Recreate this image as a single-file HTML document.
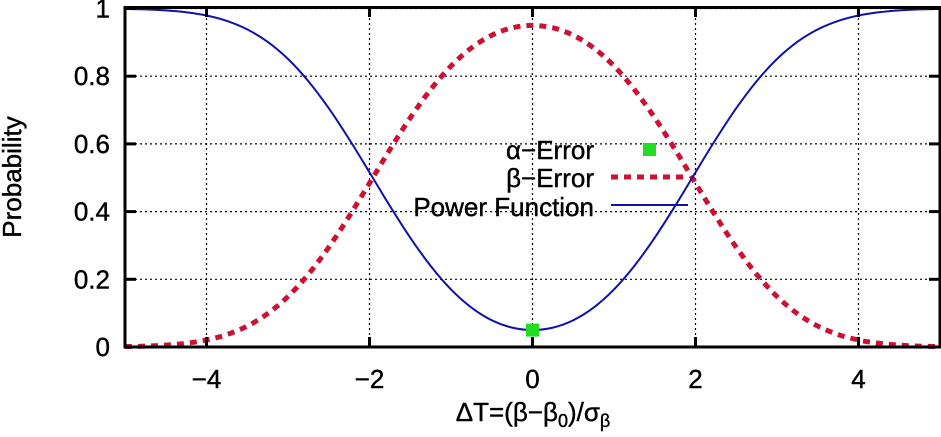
<!DOCTYPE html>
<html><head><meta charset="utf-8"><style>
html,body{margin:0;padding:0;background:#fff;}
svg{display:block;font-family:"Liberation Sans",sans-serif;}
</style></head><body>
<svg id="chart" width="941" height="437" viewBox="0 0 941 437" xmlns="http://www.w3.org/2000/svg">
<g id="grid"></g>
<g id="series"></g>
<rect x="125" y="7.5" width="815" height="339.5" fill="none" stroke="#000" stroke-width="3"/>
<g id="ticks"></g>
<text x="21" y="177" font-size="26" text-anchor="middle" transform="rotate(-90 21 177)" stroke="#000" stroke-width="0.4">Probability</text>
<text x="533" y="421" font-size="26" text-anchor="middle" stroke="#000" stroke-width="0.4">ΔT=(β−β<tspan font-size="18" dy="6">0</tspan><tspan dy="-6">)/σ</tspan><tspan font-size="18" dy="6">β</tspan></text>
<g stroke="#000" stroke-width="0.4">
<text x="594" y="159" font-size="26" text-anchor="end">α−Error</text>
<rect x="643" y="143" width="13" height="13" fill="#22dd22" stroke="none"/>
<text x="594" y="187" font-size="26" text-anchor="end">β−Error</text>
<line x1="611" y1="177" x2="688" y2="177" stroke="#cc1133" stroke-width="5" stroke-dasharray="7 6"/>
<text x="594" y="216" font-size="26" text-anchor="end">Power Function</text>
<line x1="611" y1="205" x2="688" y2="205" stroke="#1111aa" stroke-width="2"/>
</g>
</svg>
<script>
const xs=[-5,-4.75,-4.5,-4.25,-4,-3.75,-3.5,-3.25,-3,-2.75,-2.5,-2.25,-2,-1.75,-1.5,-1.25,-1,-0.75,-0.5,-0.25,0,0.25,0.5,0.75,1,1.25,1.5,1.75,2,2.25,2.5,2.75,3,3.25,3.5,3.75,4,4.25,4.5,4.75,5];
const powerVals=[0.9988,0.9974,0.9945,0.9890,0.9793,0.9633,0.9382,0.9015,0.8508,0.7852,0.7054,0.6141,0.516,0.4168,0.323,0.2396,0.170,0.1165,0.079,0.0572,0.05,0.0572,0.079,0.1165,0.170,0.2396,0.323,0.4168,0.516,0.6141,0.7054,0.7852,0.8508,0.9015,0.9382,0.9633,0.9793,0.9890,0.9945,0.9974,0.9988];
const betaVals=[0.0012,0.0026,0.0055,0.0110,0.0207,0.0367,0.0618,0.0985,0.1492,0.2148,0.2946,0.3859,0.484,0.5832,0.677,0.7604,0.830,0.8835,0.921,0.9428,0.95,0.9428,0.921,0.8835,0.830,0.7604,0.677,0.5832,0.484,0.3859,0.2946,0.2148,0.1492,0.0985,0.0618,0.0367,0.0207,0.0110,0.0055,0.0026,0.0012];
const alphaX=[0];
const alphaY=[0.05];
const xTicks=[-4,-2,0,2,4];
const xTickLabels=["−4","−2","0","2","4"];
const yTicks=[0,0.2,0.4,0.6,0.8,1];
const yTickLabels=["0","0.2","0.4","0.6","0.8","1"];

const NS="http://www.w3.org/2000/svg";
const X=v=>532.5+v*81.5;
const Y=v=>347-v*338.5;
function mk(tag,attrs,parent){const e=document.createElementNS(NS,tag);for(const k in attrs)e.setAttribute(k,attrs[k]);parent.appendChild(e);return e;}
const grid=document.getElementById('grid'),ticks=document.getElementById('ticks'),series=document.getElementById('series');
xTicks.forEach((t,i)=>{
  const g=mk('line',{x1:X(t),x2:X(t),y1:8,y2:347,stroke:'#000','stroke-width':1.2,'stroke-dasharray':'2 3'},grid);
  
  
  const tk=mk('line',{x1:X(t),x2:X(t),y1:337,y2:347,stroke:'#000','stroke-width':3},ticks);
  
  
  const tk2=mk('line',{x1:X(t),x2:X(t),y1:7,y2:17,stroke:'#000','stroke-width':3},ticks);
  
  
  const tx=mk('text',{x:X(t),y:388,'font-size':26,'text-anchor':'middle',stroke:'#000','stroke-width':0.4},ticks);
  tx.textContent=xTickLabels[i];
  
  
});
yTicks.forEach((t,i)=>{
  const g=mk('line',{x1:125,x2:940,y1:Y(t),y2:Y(t),stroke:'#000','stroke-width':1.2,'stroke-dasharray':'2 3'},grid);
  
  
  const tk=mk('line',{x1:125,x2:136,y1:Y(t),y2:Y(t),stroke:'#000','stroke-width':3},ticks);
  
  
  const tk2=mk('line',{x1:929,x2:940,y1:Y(t),y2:Y(t),stroke:'#000','stroke-width':3},ticks);
  
  
  const tx=mk('text',{x:110,y:Y(t)+9,'font-size':26,'text-anchor':'end',stroke:'#000','stroke-width':0.4},ticks);
  tx.textContent=yTickLabels[i];
  
  
});
function smoothPath(xv,yv){
  const p=xv.map((x,i)=>[X(x),Y(yv[i])]);
  let d='M'+p[0][0]+','+p[0][1];
  for(let i=0;i<p.length-1;i++){
    const p0=p[i-1]||p[i],p1=p[i],p2=p[i+1],p3=p[i+2]||p2;
    const c1=[p1[0]+(p2[0]-p0[0])/6,p1[1]+(p2[1]-p0[1])/6];
    const c2=[p2[0]-(p3[0]-p1[0])/6,p2[1]-(p3[1]-p1[1])/6];
    d+=' C'+c1[0]+','+c1[1]+' '+c2[0]+','+c2[1]+' '+p2[0]+','+p2[1];
  }
  return d;
}
const beta=mk('path',{d:smoothPath(xs,betaVals),fill:'none',stroke:'#cc1133','stroke-width':5,'stroke-dasharray':'7 6'},series);


const pw=mk('path',{d:smoothPath(xs,powerVals),fill:'none',stroke:'#1111aa','stroke-width':2},series);


alphaX.forEach((x,i)=>{
  const r=mk('rect',{x:X(x)-6.5,y:Y(alphaY[i])-6.5,width:13,height:13,fill:'#22dd22'},series);
  
  
});
</script>
</body></html>
